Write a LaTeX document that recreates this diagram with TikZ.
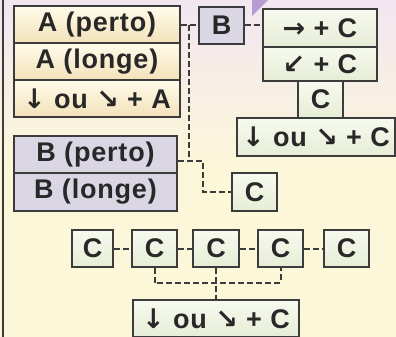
\documentclass[tikz,border=0pt]{standalone}
\usepackage{fontspec}
\setmainfont{Liberation Sans}[LetterSpace=3]
\newfontfamily\arr{DejaVu Sans}
\definecolor{bgY}{HTML}{FCF7D8}
\definecolor{bgT}{HTML}{F2E6F1}
\definecolor{bgM}{HTML}{F6F3E6}
\definecolor{lineC}{HTML}{3C3C3C}
\definecolor{txtC}{HTML}{282828}
\definecolor{aTop}{HTML}{FFFBEA}
\definecolor{aBot}{HTML}{F3E2BA}
\definecolor{bEdge}{HTML}{DAD6E4}
\definecolor{bMid}{HTML}{F6F5F9}
\definecolor{cTop}{HTML}{F7FAEF}
\definecolor{cBot}{HTML}{E6EDD6}
\definecolor{triC}{HTML}{B59DD3}
\tikzset{
  box/.style={draw=lineC, line width=1.1pt, inner sep=0pt, text=txtC,
    font=\fontsize{27}{27}\selectfont\bfseries, anchor=center},
  abox/.style={box, top color=aTop, bottom color=aBot},
  bbox/.style={box, top color=bEdge, middle color=bMid, bottom color=bEdge},
  cbox/.style={box, top color=cTop, bottom color=cBot},
  link/.style={draw=lineC, line width=2pt, dash pattern=on 6pt off 3pt},
}
\newcommand{\ar}[1]{{\arr\bfseries #1}}
\begin{document}
\begin{tikzpicture}[x=1pt,y=-1pt]
\useasboundingbox (0,0) rectangle (396,337);
% background
\shade[top color=bgT, middle color=bgM, bottom color=bgY] (0,0) rectangle (396,170);
\fill[bgY] (0,170) rectangle (396,337);
\fill[triC] (252,0) -- (268,0) -- (252,16) -- cycle;
\draw[lineC, line width=1.5pt] (3,0) -- (3,337);
% A column
\node[abox, minimum width=166pt, minimum height=37pt] (ap) at (97,24.5) {A (perto)};
\node[abox, minimum width=166pt, minimum height=37pt] (al) at (97,61.5) {A (longe)};
\node[abox, minimum width=166pt, minimum height=37pt] (aa) at (97,98.5) {\ar{↓} ou \ar{↘} + A};
% B column
\node[bbox, minimum width=163pt, minimum height=37pt] (bp) at (95.5,154.5) {B (perto)};
\node[bbox, minimum width=163pt, minimum height=38pt] (bl) at (95.5,192) {B (longe)};
% B small
\node[bbox, minimum width=45pt, minimum height=37pt] (b) at (221.5,25.5) {B};
% right column
\node[cbox, minimum width=114pt, minimum height=38pt] (r1) at (320,28) {\ar{→} + C};
\node[cbox, minimum width=114pt, minimum height=34pt] (r2) at (320,64) {\ar{↙} + C};
\node[cbox, minimum width=45pt, minimum height=37pt] (r3) at (320.5,99.5) {C};
\node[cbox, minimum width=158pt, minimum height=38pt] (r4) at (316,137) {\ar{↓} ou \ar{↘} + C};
% middle C
\node[cbox, minimum width=45pt, minimum height=38pt] (cm) at (254.5,192) {C};
% row of C
\node[cbox, minimum width=41pt, minimum height=37pt] (c1) at (92.5,248.5) {C};
\node[cbox, minimum width=45pt, minimum height=37pt] (c2) at (154.5,248.5) {C};
\node[cbox, minimum width=46pt, minimum height=37pt] (c3) at (216,248.5) {C};
\node[cbox, minimum width=45pt, minimum height=37pt] (c4) at (280.5,248.5) {C};
\node[cbox, minimum width=45pt, minimum height=37pt] (c5) at (346.5,248.5) {C};
\node[cbox, minimum width=166pt, minimum height=37pt] (bot) at (216,318.5) {\ar{↓} ou \ar{↘} + C};
% junction coordinates
\coordinate (j1) at (189,25);
\coordinate (j2) at (189,161);
\coordinate (j3) at (203,161);
\coordinate (hb) at (216,283);
% connectors
\draw[link] (ap.east |- j1) -- (b.west |- j1);
\draw[link] (j1) -- (j2);
\draw[link] (bp.east |- j2) -- (j3) |- (cm.west);
\draw[link] (b.east |- j1) -- (r1.west |- j1);
\draw[link] (c1) -- (c2);
\draw[link] (c2) -- (c3);
\draw[link] (c3) -- (c4);
\draw[link] (c4) -- (c5);
\draw[link] (c2.south) |- (hb) -| (c4.south);
\draw[link] (c3.south) -- (bot.north);
\end{tikzpicture}
\end{document}
